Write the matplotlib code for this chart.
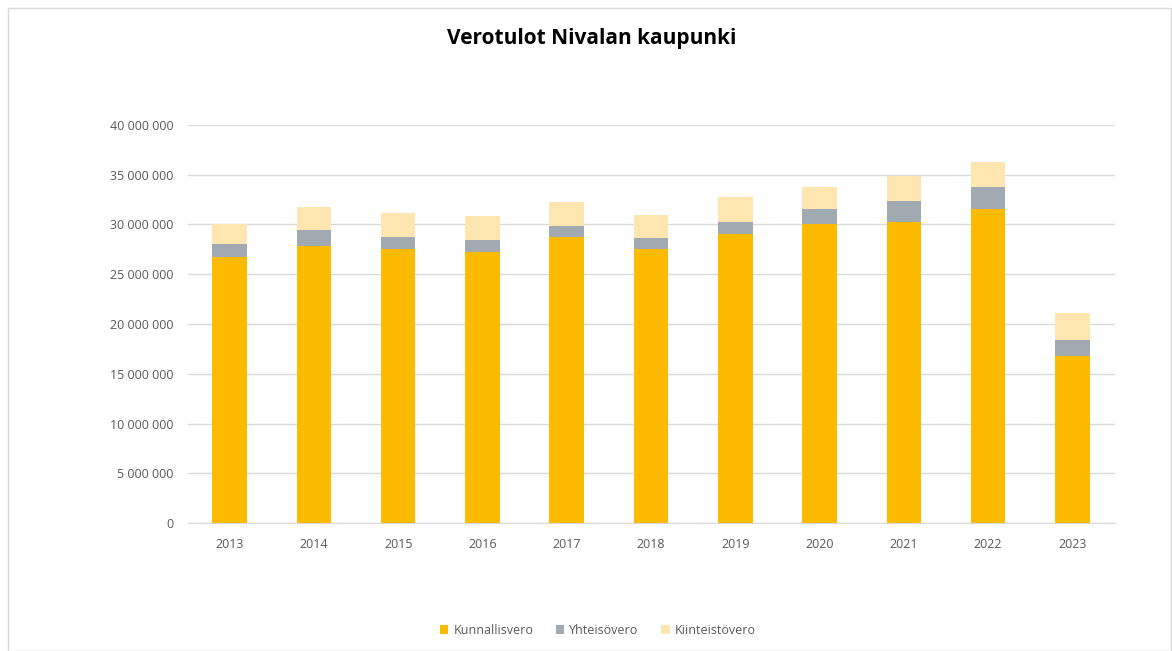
import numpy as np
import matplotlib
matplotlib.use('Agg')
import matplotlib.pyplot as plt
from matplotlib.patches import Rectangle
from matplotlib.ticker import FuncFormatter

years = ['2013', '2014', '2015', '2016', '2017', '2018', '2019', '2020', '2021', '2022', '2023']
kunnallisvero = [26.76, 27.87, 27.50, 27.27, 28.74, 27.54, 29.00, 30.02, 30.29, 31.53, 16.78]
yhteisovero = [1.24, 1.53, 1.28, 1.13, 1.14, 1.10, 1.25, 1.51, 2.11, 2.21, 1.61]
kiinteistovero = [2.05, 2.36, 2.38, 2.49, 2.38, 2.34, 2.51, 2.24, 2.50, 2.54, 2.75]

plt.rcParams['font.family'] = ['Open Sans', 'DejaVu Sans']

k = np.array(kunnallisvero) * 1e6
y = np.array(yhteisovero) * 1e6
t = np.array(kiinteistovero) * 1e6
x = np.arange(len(years))

fig = plt.figure(figsize=(11.72, 6.51), dpi=100)
ax = fig.add_axes([0.160, 0.1966, 0.791, 0.6114])

w = 0.41
ax.bar(x, k, w, color='#FCBB00', label='Kunnallisvero', zorder=3)
ax.bar(x, y, w, bottom=k, color='#A0AAB0', label='Yhteisövero', zorder=3)
ax.bar(x, t, w, bottom=k + y, color='#FFE6B1', label='Kiinteistövero', zorder=3)

ax.set_xlim(-0.5, len(years) - 0.5)
ax.set_ylim(0, 40e6)
ax.set_yticks(np.arange(0, 40e6 + 1, 5e6))
ax.yaxis.set_major_formatter(FuncFormatter(lambda v, p: f'{int(v):,}'.replace(',', ' ')))
ax.set_xticks(x)
ax.set_xticklabels(years)
ax.grid(axis='y', color='#D9D9D9', linewidth=1, zorder=0)
for s in ['top', 'right', 'left']:
    ax.spines[s].set_visible(False)
ax.spines['bottom'].set_color('#D9D9D9')
ax.tick_params(axis='both', length=0, labelsize=9, labelcolor='#595959')
ax.tick_params(axis='y', pad=10)
ax.tick_params(axis='x', pad=11)

fig.text(0.505, 0.941, 'Verotulot Nivalan kaupunki', ha='center', va='center',
         fontsize=15, fontweight='bold', color='#000000')

leg = fig.legend(loc='center', bbox_to_anchor=(0.51, 0.032), ncol=3, frameon=False,
                 fontsize=9, handlelength=0.7, handleheight=0.7, handletextpad=0.4,
                 columnspacing=1.8)
for txt in leg.get_texts():
    txt.set_color('#595959')

fig.patches.append(Rectangle((8 / 1172, 0), 1 - 8 / 1172 - 0.001, 1 - 8 / 651,
                             transform=fig.transFigure, fill=False,
                             edgecolor='#D9D9D9', linewidth=1))

fig.savefig('out.png', dpi=100)
